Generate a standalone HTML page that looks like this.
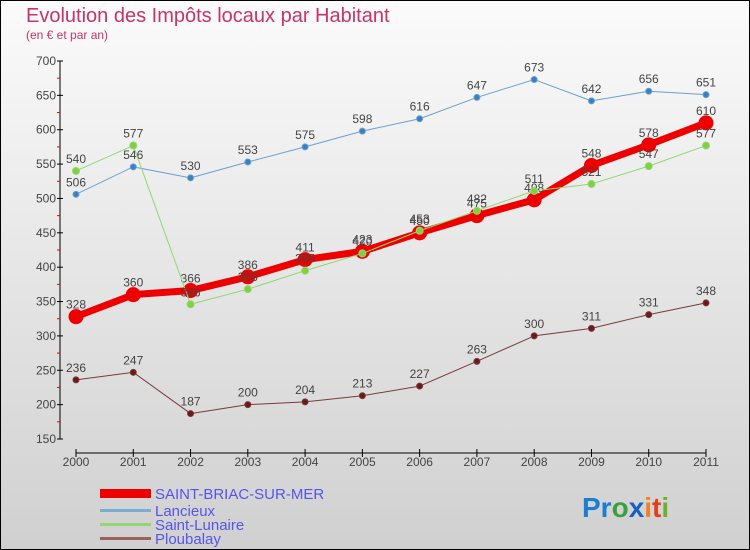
<!DOCTYPE html>
<html><head><meta charset="utf-8"><style>
body{margin:0;width:750px;height:550px;overflow:hidden}
svg{display:block;font-family:"Liberation Sans",sans-serif}
</style></head><body>
<svg id="c" width="750" height="550">
<defs><linearGradient id="bg" x1="0" y1="0" x2="0" y2="1"><stop offset="0" stop-color="#fbfbfb"/><stop offset="1" stop-color="#d0d0d0"/></linearGradient></defs>
<rect x="0.5" y="0.5" width="749" height="549" fill="url(#bg)" stroke="#000"/>
<text x="26" y="22" font-size="20" fill="#c8336a">Evolution des Impôts locaux par Habitant</text>
<text x="26" y="39" font-size="12" fill="#c8336a">(en € et par an)</text>
<g id="axes"></g><g id="series"></g>
<g>
<rect x="100" y="489" width="51" height="9" fill="#e00"/>
<text x="155" y="499" font-size="15" fill="#5555ee">SAINT-BRIAC-SUR-MER</text>
<rect x="100" y="509" width="51" height="3" fill="#7aaed0"/>
<text x="155" y="516" font-size="15" fill="#5555ee">Lancieux</text>
<rect x="100" y="523" width="51" height="3" fill="#90d870"/>
<text x="155" y="530" font-size="15" fill="#5555ee">Saint-Lunaire</text>
<rect x="100" y="537" width="51" height="3" fill="#9a6060"/>
<text x="155" y="544" font-size="15" fill="#5555ee">Ploubalay</text>
</g>
<g font-size="28" font-weight="bold">
<text x="582" y="517"><tspan fill="#1a7fd0">Pr</tspan><tspan fill="#3aa040">o</tspan><tspan fill="#1a60c0">x</tspan><tspan fill="#f08020">i</tspan><tspan fill="#e04020">t</tspan><tspan fill="#70b030">i</tspan></text>
</g>
</svg>
<script>
const years=["2000","2001","2002","2003","2004","2005","2006","2007","2008","2009","2010","2011"];
const yTicks=[150,200,250,300,350,400,450,500,550,600,650,700];
const saintBriac=[328,360,366,386,411,423,450,475,498,548,578,610];
const lancieux=[506,546,530,553,575,598,616,647,673,642,656,651];
const saintLunaire=[540,577,346,368,395,420,453,482,511,521,547,577];
const ploubalay=[236,247,187,200,204,213,227,263,300,311,331,348];
const NS="http://www.w3.org/2000/svg";
const X=i=>76+i*(630/11), Y=v=>439-(v-150)*(378/550);
function mk(t,a,p){const e=document.createElementNS(NS,t);for(const k in a)e.setAttribute(k,a[k]);p.appendChild(e);return e;}
const ax=document.getElementById('axes');
let l=mk('line',{x1:60,y1:Y(700),x2:60,y2:Y(150),stroke:'#000'},ax);


yTicks.forEach(v=>{mk('line',{x1:57,x2:63,y1:Y(v),y2:Y(v),stroke:'#000'},ax);
 if(v<700)mk('line',{x1:57,x2:60,y1:Y(v+25),y2:Y(v+25),stroke:'#e00'},ax);
 const t=mk('text',{x:56,y:Y(v)+4,'text-anchor':'end','font-size':12,fill:'#444'},ax);t.textContent=v;
 
 });
l=mk('line',{x1:76,y1:453,x2:706,y2:453,stroke:'#000'},ax);


years.forEach((y,i)=>{mk('line',{x1:X(i),x2:X(i),y1:449,y2:457,stroke:'#000'},ax);
 const t=mk('text',{x:X(i),y:466,'text-anchor':'middle','font-size':12,fill:'#444'},ax);t.textContent=y;
 
 });
const sg=document.getElementById('series');
function series(name,data,color,w,r,dot){
 const g=mk('g',{},sg);
 
 
 mk('polyline',{points:data.map((v,i)=>X(i)+','+Y(v)).join(' '),fill:'none',stroke:color,'stroke-width':w,'stroke-linejoin':'round'},g);
 data.forEach((v,i)=>{const c=mk('circle',{cx:X(i),cy:Y(v),r:r,fill:dot,stroke:color,'stroke-width':1},g);
  
  
  const t=mk('text',{x:X(i),y:Y(v)-8,'text-anchor':'middle','font-size':12,fill:'#444'},g);t.textContent=v;
  
  });
}
series('ploubalay',ploubalay,'#7a3a3a',1,3,'#6a1a1a');
series('lancieux',lancieux,'#6aa0d0',1,3,'#3a80c0');
series('saint-briac',saintBriac,'#ee0000',7,7,'#ee0000');
series('saint-lunaire',saintLunaire,'#90d870',1,3.5,'#80d040');
</script>
</body></html>
